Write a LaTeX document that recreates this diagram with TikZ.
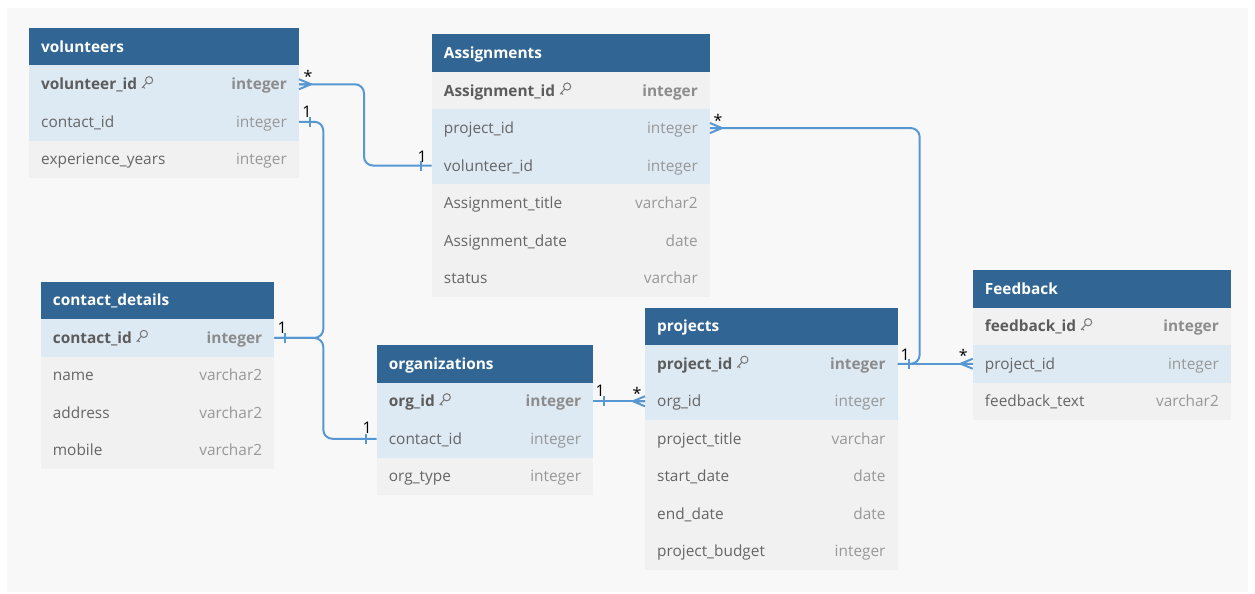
\documentclass[tikz,border=0pt]{standalone}
\usepackage{fontspec}
\setmainfont{Open Sans}
\usetikzlibrary{calc}
\definecolor{hdrblue}{RGB}{49,102,148}
\definecolor{rb}{RGB}{221,233,243}
\definecolor{rg}{RGB}{241,241,241}
\definecolor{panel}{RGB}{248,248,248}
\definecolor{conncol}{RGB}{88,152,210}
\definecolor{nametxt}{RGB}{102,102,102}
\definecolor{pktxt}{RGB}{92,92,92}
\definecolor{typetxt}{RGB}{152,152,152}
\definecolor{pktypetxt}{RGB}{140,140,140}
\definecolor{keycol}{RGB}{120,120,120}
\tikzset{
  hdr/.style={fill=hdrblue, draw=none, minimum height=37.5pt, inner sep=0pt, outer sep=0pt},
  txtbase/.style={inner sep=0pt, text height=14pt, text depth=3pt, font=\fontsize{15.4}{18}\selectfont},
  hdrtext/.style={txtbase, text=white, font=\fontsize{15.4}{18}\selectfont\bfseries, anchor=west},
  rowbox/.style={draw=none, minimum height=37.5pt, inner sep=0pt, outer sep=0pt},
  nametext/.style={txtbase, text=nametxt, anchor=west},
  pkname/.style={txtbase, text=pktxt, font=\fontsize{15.4}{18}\selectfont\bfseries, anchor=west},
  typetext/.style={txtbase, text=typetxt, anchor=east},
  pktype/.style={txtbase, text=pktypetxt, font=\fontsize{15.4}{18}\selectfont\bfseries, anchor=east},
  conn/.style={draw=conncol, line width=2pt, rounded corners=9pt},
  card/.style={text=black, font=\fontsize{16}{18}\selectfont, inner sep=0pt},
  keyicon/.pic={
    \draw[keycol, line width=1pt] (7.8,-4) circle (3.6pt);
    \draw[keycol, line width=1pt, line cap=round] (5.2,-1.4) -- (0.8,3.6) (1.9,2.4) -- (3.4,3.9);
  },
  crowR/.pic={\draw[conncol, line width=2pt, line join=round] (0,-5) -- (12,0) -- (0,5) (0,0) -- (12,0);},
  crowL/.pic={\draw[conncol, line width=2pt, line join=round] (0,-5) -- (-12,0) -- (0,5) (0,0) -- (-12,0);},
  oneR/.pic={\draw[conncol, line width=2pt] (11,-5) -- (11,5);},
  oneL/.pic={\draw[conncol, line width=2pt] (-11,-5) -- (-11,5);}
}
\newcommand{\ertable}[6]{%
  \node[hdr, minimum width=#4pt, anchor=north west] (#1) at (#2,#3) {};
  \node[hdrtext] (#1-title) at ([xshift=12pt]#1.west) {#5};
  \foreach \fc/\nm/\ty/\pk [count=\i] in {#6} {%
    \node[rowbox, fill=\fc, minimum width=#4pt, anchor=north west] (#1-\i) at ($(#1.south west)+(0,{(\i-1)*37.5})$) {};
    \ifnum\pk=1
      \node[pkname] (#1-\i-n) at ([xshift=12pt]#1-\i.west) {\nm};
      \node[pktype] (#1-\i-t) at ([xshift=-12pt]#1-\i.east) {\ty};
      \pic at ([xshift=4pt]#1-\i-n.east) {keyicon};
    \else
      \node[nametext] (#1-\i-n) at ([xshift=12pt]#1-\i.west) {\nm};
      \node[typetext] (#1-\i-t) at ([xshift=-12pt]#1-\i.east) {\ty};
    \fi
  }%
}
\begin{document}
\begin{tikzpicture}[x=1pt, y=-1pt]
\useasboundingbox (0,0) rectangle (1255,594);
\fill[white] (0,0) rectangle (1255,594);
\fill[panel] (7,8) rectangle (1248,592);

\ertable{vol}{29}{28}{270}{volunteers}{%
  rb/volunteer\_id/integer/1,
  rb/contact\_id/integer/0,
  rg/experience\_years/integer/0}
\ertable{asg}{431.7}{34.3}{278.3}{Assignments}{%
  rg/Assignment\_id/integer/1,
  rb/project\_id/integer/0,
  rb/volunteer\_id/integer/0,
  rg/Assignment\_title/varchar2/0,
  rg/Assignment\_date/date/0,
  rg/status/varchar/0}
\ertable{cd}{40.7}{281.7}{233.6}{contact\_details}{%
  rb/contact\_id/integer/1,
  rg/name/varchar2/0,
  rg/address/varchar2/0,
  rg/mobile/varchar2/0}
\ertable{org}{376.7}{345}{216.6}{organizations}{%
  rb/org\_id/integer/1,
  rb/contact\_id/integer/0,
  rg/org\_type/integer/0}
\ertable{prj}{645}{307.5}{252.7}{projects}{%
  rb/project\_id/integer/1,
  rb/org\_id/integer/0,
  rg/project\_title/varchar/0,
  rg/start\_date/date/0,
  rg/end\_date/date/0,
  rg/project\_budget/integer/0}
\ertable{fb}{972.7}{270}{258.3}{Feedback}{%
  rg/feedback\_id/integer/1,
  rb/project\_id/integer/0,
  rg/feedback\_text/varchar2/0}

% connectors
\draw[conn] (vol-1.east) -- ++(65,0) |- (asg-3.west);
\draw[conn] (cd-1.east) -- ++(49,0) |- (vol-2.east);
\draw[conn] (cd-1.east) -- ++(49,0) |- (org-2.west);
\draw[conn] (org-1.east) -- (prj-2.west);
\draw[conn] (prj-1.east) -- ++(22,0) |- (asg-2.east);
\draw[conn] (prj-1.east) -- (fb-2.west);

% cardinality marks
\pic at (vol-1.east) {crowR};
\pic at (asg-3.west) {oneL};
\pic at (vol-2.east) {oneR};
\pic at (cd-1.east) {oneR};
\pic at (org-2.west) {oneL};
\pic at (org-1.east) {oneR};
\pic at (prj-2.west) {crowL};
\pic at (prj-1.east) {oneR};
\pic at (asg-2.east) {crowR};
\pic at (fb-2.west) {crowL};

% cardinality labels
\node[card] (l1) at ([shift={(9,-8)}]vol-1.east) {*};
\node[card] (l2) at ([shift={(-9.5,-9)}]asg-3.west) {1};
\node[card] (l3) at ([shift={(8,-10)}]vol-2.east) {1};
\node[card] (l4) at ([shift={(8,-10)}]cd-1.east) {1};
\node[card] (l5) at ([shift={(-9.5,-11)}]org-2.west) {1};
\node[card] (l6) at ([shift={(7,-10.5)}]org-1.east) {1};
\node[card] (l7) at ([shift={(-8,-8)}]prj-2.west) {*};
\node[card] (l8) at ([shift={(7.5,-9)}]prj-1.east) {1};
\node[card] (l9) at ([shift={(8,-8)}]asg-2.east) {*};
\node[card] (l10) at ([shift={(-9.5,-8.5)}]fb-2.west) {*};
\end{tikzpicture}
\end{document}
